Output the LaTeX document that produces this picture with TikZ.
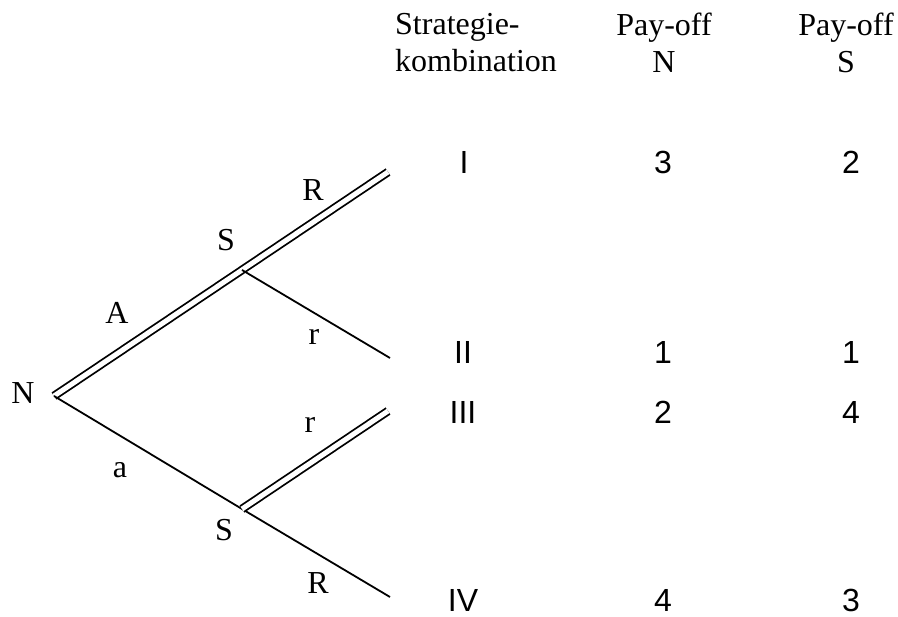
\documentclass[tikz,border=0pt]{standalone}
\usepackage{fontspec}
\setmainfont{Liberation Serif}
\newfontfamily\arialfont{Liberation Sans}

\begin{document}
\begin{tikzpicture}[x=1pt, y=-1pt,
  zweig/.style={line width=1.8pt},
  pfad/.style={double, line width=1.8pt, double distance=5pt},
  lbl/.style={font=\fontsize{32}{37}\selectfont, inner sep=0pt},
  num/.style={font=\fontsize{32}{37}\selectfont\arialfont, inner sep=0pt}]
\useasboundingbox (0,0) rectangle (898,617);

\coordinate (N0) at (54,396);
\coordinate (S1) at (242,270);
\coordinate (S2) at (242,509);
\coordinate (E1) at (388,172);
\coordinate (E2) at (390,358);
\coordinate (E3) at (388,411);
\coordinate (E4) at (390,597);

\draw[pfad] (N0) -- (S1) -- (E1);
\draw[zweig] (S1) -- (E2);
\draw[zweig] (N0) -- (S2) -- (E4);
\draw[pfad] (S2) -- (E3);

\node[lbl] (lN) at (23,393) {N};
\node[lbl] (lA) at (117,313) {A};
\node[lbl] (la) at (120,470) {a};
\node[lbl] (lS1) at (226,240) {S};
\node[lbl] (lS2) at (224,530) {S};
\node[lbl] (lR1) at (313,190) {R};
\node[lbl] (lr1) at (314,337) {r};
\node[lbl] (lr2) at (310,425) {r};
\node[lbl] (lR2) at (318,583) {R};

\node[lbl, align=left, anchor=north west] (kopf) at (395,13) {Strategie-\\kombination};
\node[lbl, align=center, anchor=north] (payN) at (664,13) {Pay-off\\N};
\node[lbl, align=center, anchor=north] (payS) at (846,13) {Pay-off\\S};

\node[num] (k1) at (464,162) {I};
\node[num] (k2) at (463,352) {II};
\node[num] (k3) at (463,412) {III};
\node[num] (k4) at (463,600) {IV};

\node[num] (n1) at (663,162) {3};
\node[num] (n2) at (663,352) {1};
\node[num] (n3) at (663,412) {2};
\node[num] (n4) at (663,600) {4};

\node[num] (s1) at (851,162) {2};
\node[num] (s2) at (851,352) {1};
\node[num] (s3) at (851,412) {4};
\node[num] (s4) at (851,600) {3};
\end{tikzpicture}
\end{document}
